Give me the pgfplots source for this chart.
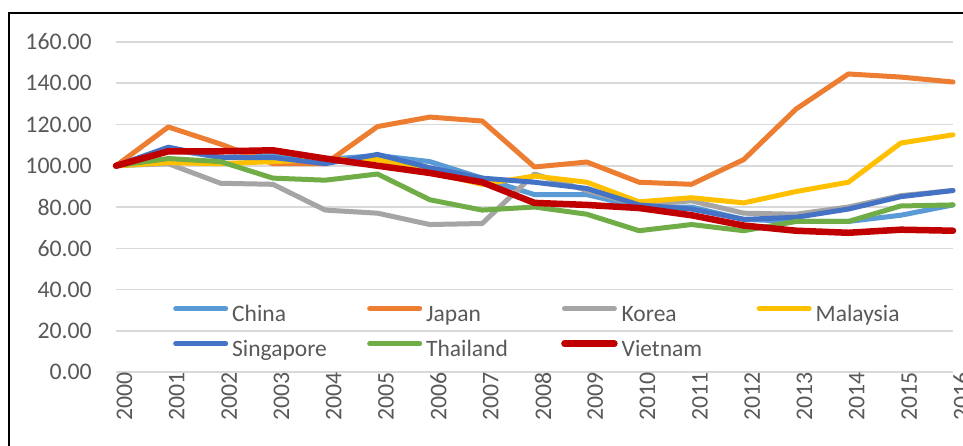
\documentclass[border=0pt]{standalone}
\usepackage{pgfplots}
\pgfplotsset{compat=1.18}
\usepackage{fontspec}
\setmainfont{Carlito}
\definecolor{cChina}{HTML}{5B9BD5}
\definecolor{cJapan}{HTML}{ED7D31}
\definecolor{cKorea}{HTML}{A5A5A5}
\definecolor{cMalaysia}{HTML}{FFC000}
\definecolor{cSingapore}{HTML}{4472C4}
\definecolor{cThailand}{HTML}{70AD47}
\definecolor{cVietnam}{HTML}{C00000}
\definecolor{txt}{HTML}{595959}
\definecolor{grd}{HTML}{D9D9D9}
\newcommand{\legtxt}[1]{\makebox[135pt][l]{#1}}
\begin{document}
\begin{tikzpicture}[x=1pt,y=1pt]
\useasboundingbox (0,0) rectangle (963,445);
\clip (0,0) rectangle (963,445);
\fill[white] (0,0) rectangle (963,445);
\begin{axis}[
  at={(116pt,73pt)}, anchor=south west,
  scale only axis, width=837pt, height=330pt,
  xmin=2000, xmax=2016, ymin=0, ymax=160,
  clip=false,
  xtick={2000,...,2016}, ytick={0,20,...,160},
  major tick length=0pt,
  axis line style={draw=none},
  ymajorgrids, grid style={draw=grd, line width=1.5pt},
  tick label style={font=\fontsize{23.8}{28}\selectfont, text=txt},
  xticklabel style={rotate=90, anchor=east, inner sep=0pt, yshift=-8.5pt,
     /pgf/number format/.cd, 1000 sep={}, assume math mode=true},
  yticklabel style={anchor=east, inner sep=0pt, xshift=-24pt,
     /pgf/number format/.cd, fixed, fixed zerofill, precision=2, assume math mode=true},
  every axis plot/.append style={line width=5pt, line join=round, line cap=round},
  legend columns=4,
  legend image code/.code={\draw[#1, line cap=round] (2.5pt,6.5pt) -- (52.5pt,6.5pt);},
  legend style={at={(rel axis cs:0.0645,0.212)}, anchor=north west, draw=none, fill=none,
    font=\fontsize{23.5}{28}\selectfont, text=txt,
    nodes={inner sep=0pt, text height=17pt, text depth=5pt},
    column sep=0pt, row sep=13pt,
    /tikz/every odd column/.style={column sep=4pt}},
]
\addplot[cChina] coordinates {(2000,100)(2001,108)(2002,104)(2003,105)(2004,103)(2005,105)(2006,102)(2007,94)(2008,86)(2009,86)(2010,80)(2011,80)(2012,74)(2013,73)(2014,73)(2015,76)(2016,81)};
\addlegendentry{\legtxt{China}}
\addplot[cJapan] coordinates {(2000,100)(2001,118.8)(2002,110.5)(2003,101)(2004,101)(2005,119)(2006,123.6)(2007,121.7)(2008,99.4)(2009,101.8)(2010,92)(2011,91)(2012,103)(2013,127.5)(2014,144.5)(2015,143)(2016,140.6)};
\addlegendentry{\legtxt{Japan}}
\addplot[cKorea] coordinates {(2000,100)(2001,101)(2002,91.5)(2003,91)(2004,78.5)(2005,77)(2006,71.5)(2007,72)(2008,96)(2009,88)(2010,81)(2011,83)(2012,77)(2013,76.5)(2014,80)(2015,85.5)(2016,88)};
\addlegendentry{\legtxt{Korea}}
\addplot[cMalaysia] coordinates {(2000,100)(2001,101.5)(2002,101)(2003,102)(2004,103)(2005,103)(2006,97)(2007,91)(2008,95)(2009,92)(2010,82.5)(2011,84.5)(2012,82)(2013,87.5)(2014,92)(2015,111)(2016,115)};
\addlegendentry{\legtxt{Malaysia}}
\addplot[cSingapore] coordinates {(2000,100)(2001,109)(2002,104)(2003,104)(2004,101)(2005,105.5)(2006,99)(2007,94)(2008,92)(2009,89)(2010,81)(2011,79)(2012,74)(2013,75)(2014,79)(2015,85)(2016,88)};
\addlegendentry{\legtxt{Singapore}}
\addplot[cThailand] coordinates {(2000,100)(2001,103.5)(2002,102)(2003,94)(2004,93)(2005,96)(2006,83.5)(2007,78.5)(2008,80)(2009,76.5)(2010,68.5)(2011,71.5)(2012,68.5)(2013,73)(2014,73)(2015,80.5)(2016,81)};
\addlegendentry{\legtxt{Thailand}}
\addplot[cVietnam, line width=6.5pt] coordinates {(2000,100)(2001,107)(2002,107)(2003,107.5)(2004,103.5)(2005,100)(2006,96.5)(2007,92)(2008,82)(2009,81)(2010,79.5)(2011,76)(2012,71)(2013,68.5)(2014,67.5)(2015,69)(2016,68.5)};
\addlegendentry{\legtxt{Vietnam}}
\end{axis}
\draw[line width=2pt, black] (9,-20) -- (9,432) -- (990,432);
\end{tikzpicture}
\end{document}
